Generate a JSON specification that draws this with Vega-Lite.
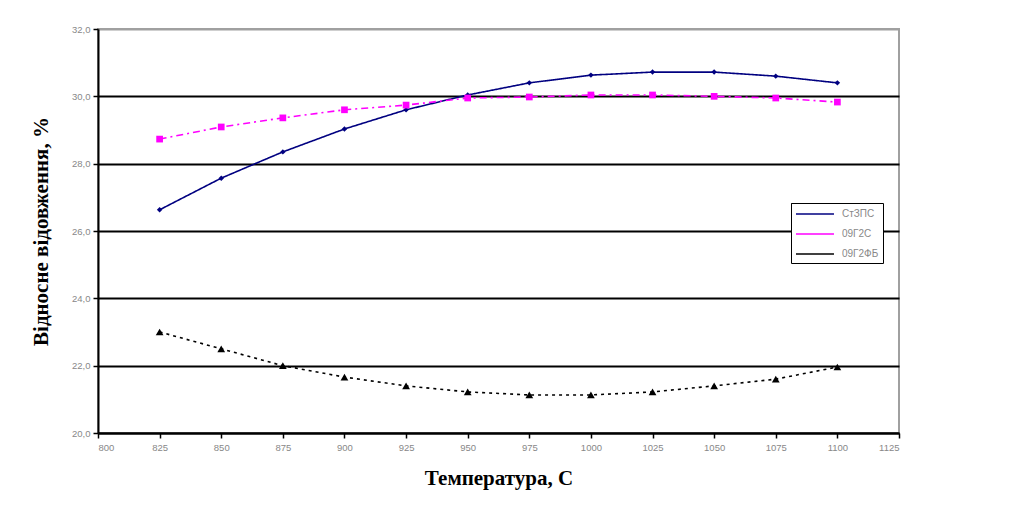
{
  "$schema": "https://vega.github.io/schema/vega-lite/v6.json",
  "autosize": "none",
  "width": 801,
  "height": 404,
  "padding": {"left": 98, "top": 29, "right": 115, "bottom": 85},
  "background": "white",
  "config": {
    "view": {"stroke": "#a0a0a0", "strokeWidth": 2},
    "font": "Liberation Sans"
  },
  "data": {
    "values": [
      {"t": 825, "s": "СтЗПС", "v": 26.63},
      {"t": 850, "s": "СтЗПС", "v": 27.57},
      {"t": 875, "s": "СтЗПС", "v": 28.35},
      {"t": 900, "s": "СтЗПС", "v": 29.03},
      {"t": 925, "s": "СтЗПС", "v": 29.6},
      {"t": 950, "s": "СтЗПС", "v": 30.04},
      {"t": 975, "s": "СтЗПС", "v": 30.4},
      {"t": 1000, "s": "СтЗПС", "v": 30.63},
      {"t": 1025, "s": "СтЗПС", "v": 30.72},
      {"t": 1050, "s": "СтЗПС", "v": 30.72},
      {"t": 1075, "s": "СтЗПС", "v": 30.6},
      {"t": 1100, "s": "СтЗПС", "v": 30.4},
      {"t": 825, "s": "09Г2С", "v": 28.73},
      {"t": 850, "s": "09Г2С", "v": 29.09},
      {"t": 875, "s": "09Г2С", "v": 29.36},
      {"t": 900, "s": "09Г2С", "v": 29.6},
      {"t": 925, "s": "09Г2С", "v": 29.74},
      {"t": 950, "s": "09Г2С", "v": 29.95},
      {"t": 975, "s": "09Г2С", "v": 29.98},
      {"t": 1000, "s": "09Г2С", "v": 30.04},
      {"t": 1025, "s": "09Г2С", "v": 30.04},
      {"t": 1050, "s": "09Г2С", "v": 30.0},
      {"t": 1075, "s": "09Г2С", "v": 29.95},
      {"t": 1100, "s": "09Г2С", "v": 29.83},
      {"t": 825, "s": "09Г2ФБ", "v": 23.0},
      {"t": 850, "s": "09Г2ФБ", "v": 22.5},
      {"t": 875, "s": "09Г2ФБ", "v": 22.0},
      {"t": 900, "s": "09Г2ФБ", "v": 21.66},
      {"t": 925, "s": "09Г2ФБ", "v": 21.4},
      {"t": 950, "s": "09Г2ФБ", "v": 21.22},
      {"t": 975, "s": "09Г2ФБ", "v": 21.13},
      {"t": 1000, "s": "09Г2ФБ", "v": 21.13},
      {"t": 1025, "s": "09Г2ФБ", "v": 21.22},
      {"t": 1050, "s": "09Г2ФБ", "v": 21.4},
      {"t": 1075, "s": "09Г2ФБ", "v": 21.6},
      {"t": 1100, "s": "09Г2ФБ", "v": 21.96}
    ]
  },
  "encoding": {
    "x": {
      "field": "t", "type": "quantitative",
      "scale": {"domain": [800, 1125], "nice": false, "zero": false},
      "axis": {
        "title": "Температура, С",
        "values": [800, 825, 850, 875, 900, 925, 950, 975, 1000, 1025, 1050, 1075, 1100, 1125],
        "format": "d",
        "grid": false,
        "domainColor": "black", "domainWidth": 2,
        "tickColor": "black", "tickWidth": 1.5, "tickSize": 5,
        "labelColor": "#888", "labelFontSize": 9.5, "labelPadding": 4,
        "titleFont": "Liberation Serif", "titleFontSize": 21, "titleFontWeight": "bold",
        "titleColor": "black", "titlePadding": 16
      }
    },
    "y": {
      "field": "v", "type": "quantitative",
      "scale": {"domain": [20, 32], "nice": false, "zero": false},
      "axis": {
        "title": "Відносне відовження, %",
        "values": [20, 22, 24, 26, 28, 30, 32],
        "labelExpr": "replace(format(datum.value, '.1f'), '.', ',')",
        "grid": true,
        "gridColor": {"condition": {"test": "datum.value >= 32", "value": "#a0a0a0"}, "value": "black"},
        "gridWidth": 2,
        "domainColor": "black", "domainWidth": 2,
        "tickColor": "black", "tickWidth": 1.5, "tickSize": 5,
        "labelColor": "#888", "labelFontSize": 9.5, "labelPadding": 3,
        "titleFont": "Liberation Serif", "titleFontSize": 21, "titleFontWeight": "bold",
        "titleColor": "black", "titlePadding": 20
      }
    }
  },
  "resolve": {"legend": {"shape": "independent", "color": "independent"}},
  "layer": [
    {
      "mark": {"type": "line", "strokeWidth": 1.6},
      "encoding": {
        "color": {
          "field": "s", "type": "nominal",
          "scale": {"domain": ["СтЗПС", "09Г2С", "09Г2ФБ"], "range": ["#000080", "#ff00ff", "#000000"]},
          "legend": {
            "title": null, "orient": "none", "legendX": 693, "legendY": 174,
            "fillColor": "white", "strokeColor": "black",
            "padding": 4, "labelColor": "#888", "labelFontSize": 10, "labelOffset": 33,
            "symbolType": "M-1,0H5.33", "symbolSize": 144, "rowPadding": 8, "symbolStrokeWidth": 1.5
          }
        },
        "strokeDash": {
          "field": "s", "type": "nominal",
          "scale": {"domain": ["СтЗПС", "09Г2С", "09Г2ФБ"], "range": [[1, 0], [7, 4, 2, 4], [3, 4]]},
          "legend": {
            "title": null, "orient": "none", "legendX": 693, "legendY": 174,
            "fillColor": "white", "strokeColor": "black",
            "padding": 4, "labelColor": "#888", "labelFontSize": 10, "labelOffset": 33,
            "symbolType": "M-1,0H5.33", "symbolSize": 144, "rowPadding": 8, "symbolStrokeWidth": 1.5
          }
        }
      }
    },
    {
      "mark": {"type": "point", "filled": true, "opacity": 1},
      "encoding": {
        "color": {
          "field": "s", "type": "nominal",
          "scale": {"domain": ["СтЗПС", "09Г2С", "09Г2ФБ"], "range": ["#000080", "#ff00ff", "#000000"]},
          "legend": null
        },
        "shape": {
          "field": "s", "type": "nominal",
          "scale": {"domain": ["СтЗПС", "09Г2С", "09Г2ФБ"], "range": ["diamond", "square", "triangle-up"]},
          "legend": null
        },
        "size": {
          "field": "s", "type": "nominal",
          "scale": {"domain": ["СтЗПС", "09Г2С", "09Г2ФБ"], "range": [30, 60, 45]},
          "legend": null
        }
      }
    }
  ]
}
